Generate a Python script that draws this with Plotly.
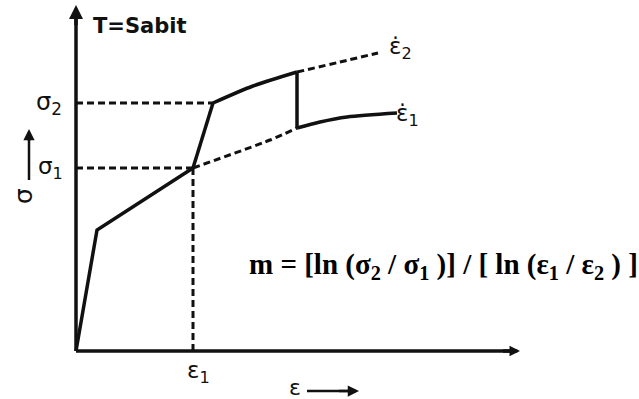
import plotly.graph_objects as go

# Strain-rate jump test, schematic stress-strain curves at constant temperature
# Loading at rate eps1_dot: elastic part and plastic part up to strain eps1
eps_load = [0.0, 0.21, 1.17]
sig_load = [0.0, 1.21, 1.83]

# Continuation of the eps1_dot curve had the rate not changed (dashed)
eps_rate1_dash = [1.17, 1.94, 2.21]
sig_rate1_dash = [1.83, 2.11, 2.23]

# Rate jump to eps2_dot
eps_jump = [1.17, 1.37]
sig_jump = [1.83, 2.48]

# Flow at eps2_dot (solid) and its continuation (dashed)
eps_rate2 = [1.37, 1.77, 2.21]
sig_rate2 = [2.48, 2.65, 2.79]
eps_rate2_dash = [2.21, 2.64, 3.02]
sig_rate2_dash = [2.79, 2.89, 2.98]

# Drop back to eps1_dot and further flow
eps_drop = [2.21, 2.21]
sig_drop = [2.79, 2.23]
eps_rate1 = [2.21, 2.44, 2.71, 3.21]
sig_rate1 = [2.23, 2.29, 2.34, 2.38]

# Reference levels
sigma_1 = 1.83
sigma_2 = 2.48
epsilon_1 = 1.17
eps_axis_end = 4.44
sig_axis_end = 3.46

formula = ("m = [ln (σ<sub>2</sub> / σ<sub>1</sub> )] / "
           "[ ln (ε<sub>1</sub> / ε<sub>2</sub> ) ]")

LW = 3.5
DW = 3
DASH = "7px,4px"
INK = "#111111"

fig = go.Figure()


def line(x, y, dash="solid", width=LW, shape="linear"):
    fig.add_trace(go.Scatter(x=x, y=y, mode="lines",
                             line=dict(color=INK, width=width, dash=dash,
                                       shape=shape, smoothing=0.8),
                             hoverinfo="skip", showlegend=False))


def arrowhead(x, y, tail_x, tail_y, size, width):
    fig.add_annotation(x=x, y=y, ax=tail_x, ay=tail_y, xref="x", yref="y",
                       axref="x", ayref="y", text=" ", showarrow=True,
                       arrowhead=2, arrowsize=size, arrowwidth=width,
                       arrowcolor=INK)


# guide lines to the axes
line([0, eps_jump[-1]], [sigma_2, sigma_2], DASH, DW)
line([0, epsilon_1], [sigma_1, sigma_1], DASH, DW)
line([epsilon_1, epsilon_1], [0, sigma_1], DASH, DW)

# curves
line(eps_load, sig_load)
line(eps_rate1_dash, sig_rate1_dash, DASH, DW, "spline")
line(eps_jump, sig_jump)
line(eps_rate2, sig_rate2, shape="spline")
line(eps_rate2_dash, sig_rate2_dash, DASH, DW, "spline")
line(eps_drop, sig_drop)
line(eps_rate1, sig_rate1, shape="spline")

# axes
line([0, 0], [0, sig_axis_end - 0.05])
line([0, eps_axis_end - 0.05], [0, 0])
arrowhead(0, sig_axis_end, 0, sig_axis_end - 0.3, 0.8, LW)
arrowhead(eps_axis_end, 0, eps_axis_end - 0.2, 0, 0.6, LW)

hand = dict(family="DejaVu Sans", color=INK)

fig.add_annotation(x=0.15, y=3.25, text="<b>T=Sabit</b>", showarrow=False,
                   xanchor="left", font=dict(size=21, **hand))
fig.add_annotation(x=-0.27, y=sigma_2, text="σ<sub>2</sub>", showarrow=False,
                   font=dict(size=24, **hand))
fig.add_annotation(x=-0.26, y=sigma_1, text="σ<sub>1</sub>", showarrow=False,
                   font=dict(size=23, **hand))
fig.add_annotation(x=epsilon_1 + 0.05, y=-0.21, text="ε<sub>1</sub>",
                   showarrow=False, font=dict(size=23, **hand))
fig.add_annotation(x=eps_rate2_dash[-1] + 0.22, y=sig_rate2_dash[-1] + 0.05,
                   text="ε̇<sub>2</sub>", showarrow=False,
                   font=dict(size=23, **hand))
fig.add_annotation(x=eps_rate1[-1] + 0.1, y=sig_rate1[-1] - 0.02,
                   text="ε̇<sub>1</sub>", showarrow=False,
                   font=dict(size=23, **hand))

# axis names with their arrows
fig.add_annotation(x=-0.53, y=1.55, text="σ", textangle=-90, showarrow=False,
                   font=dict(size=25, **hand))
line([-0.47, -0.47], [1.71, 2.12], width=2.5)
arrowhead(-0.47, 2.22, -0.47, 2.0, 0.9, 2.5)
fig.add_annotation(x=2.19, y=-0.36, text="ε", showarrow=False,
                   font=dict(size=22, **hand))
line([2.31, 2.74], [-0.40, -0.40], width=2.5)
arrowhead(2.83, -0.40, 2.6, -0.40, 0.9, 2.5)

# strain-rate sensitivity relation
fig.add_annotation(x=1.71, y=0.85, text="<b>" + formula + "</b>",
                   showarrow=False, xanchor="left",
                   font=dict(family="Liberation Serif", size=29, color="#000"))

fig.update_xaxes(range=[-0.76, 5.63], visible=False, fixedrange=True)
fig.update_yaxes(range=[-0.48, 3.51], visible=False, fixedrange=True)
fig.update_layout(width=639, height=399, margin=dict(l=0, r=0, t=0, b=0),
                  paper_bgcolor="white", plot_bgcolor="white",
                  showlegend=False)

fig.write_html("out.html")
